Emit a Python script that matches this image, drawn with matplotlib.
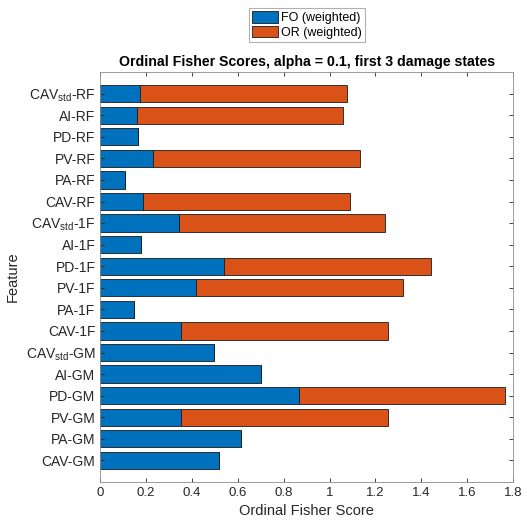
import numpy as np
import matplotlib
matplotlib.use('Agg')
import matplotlib.pyplot as plt

plt.rcParams['font.family'] = ['Liberation Sans', 'DejaVu Sans']
plt.rcParams['mathtext.fontset'] = 'custom'
plt.rcParams['mathtext.rm'] = 'Liberation Sans'
plt.rcParams['mathtext.it'] = 'Liberation Sans'

# features, bottom to top
features = ['CAV-GM', 'PA-GM', 'PV-GM', 'PD-GM', 'AI-GM', 'CAV$_{\\mathrm{std}}$-GM',
            'CAV-1F', 'PA-1F', 'PV-1F', 'PD-1F', 'AI-1F', 'CAV$_{\\mathrm{std}}$-1F',
            'CAV-RF', 'PA-RF', 'PV-RF', 'PD-RF', 'AI-RF', 'CAV$_{\\mathrm{std}}$-RF']
fo_weighted = [0.517, 0.612, 0.351, 0.865, 0.702, 0.497,
               0.351, 0.145, 0.416, 0.539, 0.178, 0.344,
               0.187, 0.106, 0.230, 0.163, 0.160, 0.174]
or_weighted = [0.0, 0.0, 0.903, 0.902, 0.0, 0.0,
               0.903, 0.0, 0.904, 0.903, 0.0, 0.899,
               0.903, 0.0, 0.903, 0.0, 0.898, 0.902]

blue = '#0072BD'
orange = '#D95319'
dark = '#262626'

fig = plt.figure(figsize=(5.27, 5.22), dpi=100)
ax = fig.add_axes([0.1903, 0.0766, 0.7831, 0.7854])

y = np.arange(1, len(features) + 1)
ax.barh(y, fo_weighted, height=0.8, color=blue, edgecolor='#1a1a1a', linewidth=0.6,
        label='FO (weighted)')
ax.barh(y, or_weighted, left=fo_weighted, height=0.8, color=orange, edgecolor='#1a1a1a',
        linewidth=0.6, label='OR (weighted)')

ax.set_xlim(0, 1.8)
ax.set_ylim(0, 19)
ax.set_xticks(np.arange(0, 1.81, 0.2))
ax.set_xticklabels(['0', '0.2', '0.4', '0.6', '0.8', '1', '1.2', '1.4', '1.6', '1.8'])
ax.set_yticks(y)
ax.set_yticklabels(features)
ax.tick_params(axis='both', direction='in', length=3, width=0.6, colors=dark,
               top=True, right=True, labelsize=10)
ax.tick_params(axis='x', labelsize=9.5)
for s in ax.spines.values():
    s.set_color('#8c8c8c')
    s.set_linewidth(0.6)

ax.set_xlabel('Ordinal Fisher Score', fontsize=10.5, color=dark)
ax.set_ylabel('Feature', fontsize=10.5, color=dark)
ax.set_title('Ordinal Fisher Scores, alpha = 0.1, first 3 damage states',
             fontsize=10.2, fontweight='bold', pad=4)

leg = ax.legend(loc='lower center', bbox_to_anchor=(0.5, 1.073), borderaxespad=0,
                fontsize=9, handlelength=2.1, handleheight=1.0, handletextpad=0.2,
                labelspacing=0.15, borderpad=0.25, fancybox=False, framealpha=1)
leg.get_frame().set_edgecolor('#b0b0b0')
leg.get_frame().set_linewidth(0.8)

fig.savefig('out.png', dpi=100)
